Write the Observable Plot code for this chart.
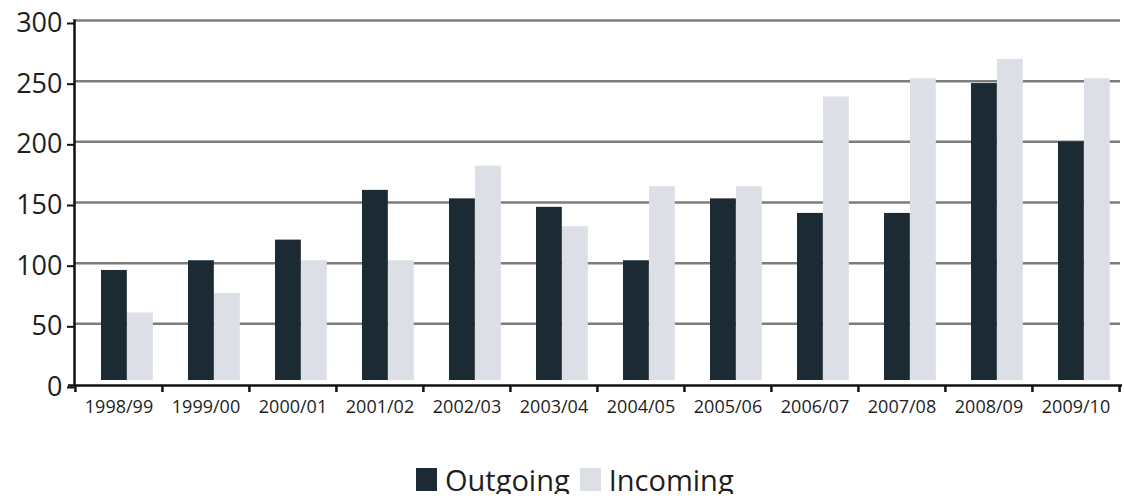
<!DOCTYPE html>
<html>
<head>
<meta charset="utf-8">
<script src="https://cdn.jsdelivr.net/npm/d3@7"></script>
<script src="https://cdn.jsdelivr.net/npm/@observablehq/plot@0.6"></script>
<style>
  html, body { margin: 0; padding: 0; background: #fff; }
  #chart { width: 1124px; height: 440px; }
  #chart svg { display: block; }
  .legend { display: flex; align-items: center; font-family: "Open Sans", sans-serif; font-size: 29px; line-height: 1; color: #1e1e1e; margin-top: 25px; padding-left: 416px; }
  .legend .sw { width: 21px; height: 23px; display: inline-block; margin-right: 8px; }
  .legend .item { display: flex; align-items: center; margin-right: 10px; }
</style>
</head>
<body>
<div id="chart"></div>
<script>
const years = ["1998/99","1999/00","2000/01","2001/02","2002/03","2003/04","2004/05","2005/06","2006/07","2007/08","2008/09","2009/10"];
const outgoing = [94, 102, 119, 160, 153, 146, 102, 153, 141, 141, 248, 200];
const incoming = [59, 75, 102, 102, 180, 130, 163, 163, 237, 252, 268, 252];
const yTicks = [0, 50, 100, 150, 200, 250, 300];
const seriesNames = ["Outgoing", "Incoming"];
const seriesColors = ["#1c2a33", "#dcdfe5"];

const W = 1124, H = 440;
const mL = 74, mR = 4, mT = 20, mB = 56;
const bw = (W - mL - mR) / years.length;

const outData = years.map((y, i) => ({year: y, value: outgoing[i]}));
const inData = years.map((y, i) => ({year: y, value: incoming[i]}));

const plot = Plot.plot({
  width: W,
  height: H,
  marginLeft: mL,
  marginRight: mR,
  marginTop: mT,
  marginBottom: mB,
  style: {fontFamily: "'Open Sans', sans-serif", color: "#1e1e1e", background: "#fff"},
  x: {domain: years, padding: 0, label: null},
  y: {domain: [0, 300], ticks: yTicks, label: null},
  marks: [
    Plot.gridY(yTicks.filter(d => d > 0), {stroke: "#7d7d7d", strokeOpacity: 1, strokeWidth: 2.5}),
    Plot.barY(outData, {x: "year", y: "value", fill: seriesColors[0], insetLeft: 26, insetRight: bw - 52, insetBottom: 4}),
    Plot.barY(inData, {x: "year", y: "value", fill: seriesColors[1], insetLeft: 52, insetRight: bw - 78, insetBottom: 4}),
    Plot.frame({anchor: "left", stroke: "#111", strokeWidth: 2.5}),
    Plot.ruleY([0], {stroke: "#111", strokeWidth: 2.5, insetLeft: -6, insetRight: -2, dy: 1}),
    Plot.axisY({ticks: yTicks, tickSize: 7, tickPadding: 5, fontSize: 27, dy: 3, stroke: "#111", strokeWidth: 2, label: null}),
    Plot.axisX({tickSize: 6, dx: -bw / 2, dy: 2, text: null, stroke: "#111", strokeWidth: 2.5, label: null}),
    Plot.axisX({ticks: [years[years.length - 1]], tickSize: 6, dx: bw / 2, dy: 2, text: null, stroke: "#111", strokeWidth: 2.5, label: null}),
    Plot.axisX({tickSize: 0, tickPadding: 16, fontSize: 18, label: null})
  ]
});
document.getElementById("chart").appendChild(plot);

const legend = document.createElement("div");
legend.className = "legend";
seriesNames.forEach((n, i) => {
  const it = document.createElement("span");
  it.className = "item";
  const sw = document.createElement("span");
  sw.className = "sw";
  sw.style.background = seriesColors[i];
  it.appendChild(sw);
  it.appendChild(document.createTextNode(n));
  legend.appendChild(it);
});
document.body.appendChild(legend);
</script>
</body>
</html>
